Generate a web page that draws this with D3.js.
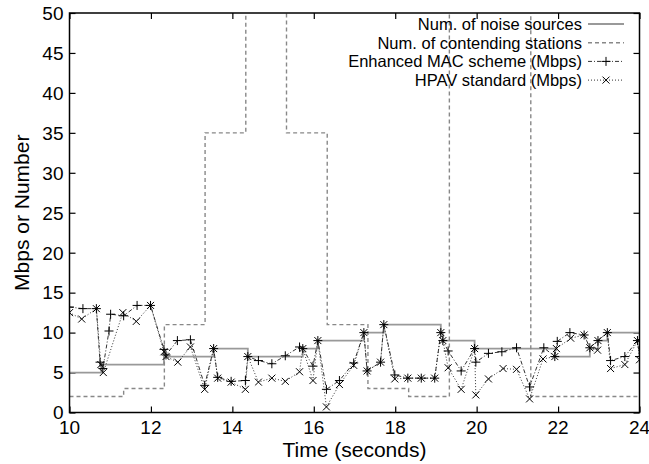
<!DOCTYPE html>
<html>
<head>
<meta charset="utf-8">
<script src="https://cdn.jsdelivr.net/npm/d3@7"></script>
<style>
  body { margin: 0; background: #fff; }
  text { font-family: "Liberation Sans", Arial, sans-serif; fill: #000; }
</style>
</head>
<body>
<div id="chart"></div>
<script>
// step series: value holds from its time until the next time
const noiseTimes = [10, 10.78, 12.32, 13.54, 14.38, 15.73, 16.10, 17.23, 17.72, 19.12, 19.17, 19.95, 21.92, 22.78, 22.98, 23.21, 24];
const noiseCount = [5, 6, 7, 8, 7, 8, 9, 10, 11, 10, 9, 8, 7, 8, 9, 10, 10];

const stationTimes = [10, 11.33, 12.33, 13.33, 14.33, 15.33, 16.33, 17.33, 18.33, 19.33, 21.33, 24];
const stationCount = [2, 3, 11, 35, 100, 35, 11, 3, 2, 100, 2, 2];

const enhancedTimes = [10.0, 10.33, 10.66, 10.75, 10.82, 10.97, 11.01, 11.33, 11.66, 11.99, 12.32, 12.37, 12.65, 12.97,
  13.32, 13.54, 13.64, 13.97, 14.32, 14.38, 14.64, 14.97, 15.30, 15.65, 15.73, 15.98, 16.10, 16.31, 16.63, 16.98,
  17.23, 17.31, 17.64, 17.72, 17.99, 18.31, 18.64, 18.97, 19.12, 19.17, 19.30, 19.62, 19.95, 19.98, 20.29, 20.62,
  20.98, 21.30, 21.65, 21.92, 21.98, 22.29, 22.64, 22.78, 22.98, 23.21, 23.29, 23.64, 23.95, 24.0];
const enhancedMbps = [13.2, 13.0, 13.0, 6.3, 5.5, 10.2, 12.3, 12.1, 13.4, 13.4, 7.9, 7.2, 9.0, 9.1,
  3.4, 8.0, 4.4, 3.9, 4.0, 7.0, 6.5, 6.1, 7.1, 8.2, 8.0, 5.8, 9.0, 2.9, 4.0, 6.2,
  10.0, 5.2, 6.3, 11.0, 4.7, 4.3, 4.3, 4.3, 10.0, 9.0, 7.7, 5.2, 8.0, 6.3, 7.4, 7.6,
  8.1, 3.2, 8.1, 7.0, 8.9, 10.0, 9.7, 8.1, 9.0, 10.0, 6.5, 7.0, 9.0, 7.0];

const hpavTimes = [10.0, 10.30, 10.66, 10.77, 10.83, 11.31, 11.64, 11.99, 12.32, 12.37, 12.66, 12.97,
  13.32, 13.54, 13.64, 13.97, 14.32, 14.38, 14.64, 14.97, 15.30, 15.65, 15.73, 15.98, 16.10, 16.31, 16.63, 16.98,
  17.23, 17.31, 17.64, 17.72, 17.99, 18.31, 18.64, 18.97, 19.12, 19.17, 19.30, 19.62, 19.95, 19.98, 20.29, 20.65,
  20.98, 21.30, 21.63, 21.92, 21.96, 22.31, 22.64, 22.78, 22.97, 22.98, 23.21, 23.29, 23.64, 23.95, 24.0];
const hpavMbps = [12.5, 11.7, 13.0, 6.0, 5.0, 12.5, 11.4, 13.4, 7.6, 7.0, 6.3, 8.2,
  2.9, 8.0, 4.3, 3.8, 2.9, 7.0, 3.8, 4.3, 3.9, 5.1, 8.0, 4.0, 9.0, 0.7, 3.5, 5.9,
  10.0, 5.2, 6.3, 11.0, 4.2, 4.3, 4.3, 4.3, 10.0, 9.0, 5.6, 2.9, 8.0, 2.2, 4.2, 5.5,
  5.4, 1.7, 6.7, 7.0, 8.0, 9.3, 9.7, 8.1, 7.8, 9.0, 10.0, 5.5, 6.0, 9.0, 6.6];

const xTicks = [10, 12, 14, 16, 18, 20, 22, 24];
const yTicks = [0, 5, 10, 15, 20, 25, 30, 35, 40, 45, 50];
const legendLabels = ["Num. of noise sources", "Num. of contending stations", "Enhanced MAC scheme (Mbps)", "HPAV standard (Mbps)"];

const width = 649, height = 464;
const margin = { top: 13, right: 9.5, bottom: 51.5, left: 69.5 };
const plotW = width - margin.left - margin.right;
const plotH = height - margin.top - margin.bottom;

const x = d3.scaleLinear().domain([10, 24]).range([0, plotW]);
const y = d3.scaleLinear().domain([0, 50]).range([plotH, 0]);

const svg = d3.select("#chart").append("svg")
  .attr("width", width)
  .attr("height", height);

svg.append("defs").append("clipPath").attr("id", "plotclip")
  .append("rect").attr("width", plotW).attr("height", plotH);

const g = svg.append("g").attr("transform", `translate(${margin.left},${margin.top})`);

// ticks inward on all four sides, gnuplot style
const tickLen = 6;
g.append("g").call(d3.axisBottom(x).tickValues(xTicks).tickSize(-tickLen).tickFormat(""))
  .attr("transform", `translate(0,${plotH})`);
g.append("g").call(d3.axisTop(x).tickValues(xTicks).tickSize(-tickLen).tickFormat(""));
g.append("g").call(d3.axisLeft(y).tickValues(yTicks).tickSize(-tickLen).tickFormat(""));
g.append("g").call(d3.axisRight(y).tickValues(yTicks).tickSize(-tickLen).tickFormat(""))
  .attr("transform", `translate(${plotW},0)`);
g.selectAll(".domain").remove();
g.selectAll(".tick line").attr("stroke", "#000").attr("stroke-width", 1.2);

// tick labels
g.selectAll(".xlab").data(xTicks).enter().append("text")
  .attr("class", "xlab")
  .attr("x", d => x(d)).attr("y", plotH + 21)
  .attr("text-anchor", "middle").style("font-size", "19px")
  .text(d => d);
g.selectAll(".ylab").data(yTicks).enter().append("text")
  .attr("class", "ylab")
  .attr("x", -6).attr("y", d => y(d)).attr("dy", "0.36em")
  .attr("text-anchor", "end").style("font-size", "19px")
  .text(d => d);

svg.append("text")
  .attr("x", margin.left + plotW / 2).attr("y", 457)
  .attr("text-anchor", "middle").style("font-size", "21px")
  .text("Time (seconds)");
svg.append("text")
  .attr("transform", `translate(29,${margin.top + plotH / 2}) rotate(-90)`)
  .attr("text-anchor", "middle").style("font-size", "21px")
  .text("Mbps or Number");

const plot = g.append("g").attr("clip-path", "url(#plotclip)");

const stepLine = d3.line().x(d => x(d[0])).y(d => y(d[1])).curve(d3.curveStepAfter);
const plainLine = d3.line().x(d => x(d[0])).y(d => y(d[1]));

const noise = d3.zip(noiseTimes, noiseCount);
const stations = d3.zip(stationTimes, stationCount);
const enhanced = d3.zip(enhancedTimes, enhancedMbps);
const hpav = d3.zip(hpavTimes, hpavMbps);

const styles = [
  { stroke: "#999", width: 1.8, dash: null },
  { stroke: "#888", width: 1.4, dash: "4,3" },
  { stroke: "#333", width: 1, dash: "4,2,1,2" },
  { stroke: "#333", width: 1, dash: "1,2" }
];

plot.append("path").datum(noise).attr("d", stepLine)
  .attr("fill", "none").attr("stroke", styles[0].stroke).attr("stroke-width", styles[0].width);
plot.append("path").datum(stations).attr("d", stepLine)
  .attr("fill", "none").attr("stroke", styles[1].stroke).attr("stroke-width", styles[1].width)
  .attr("stroke-dasharray", styles[1].dash);
plot.append("path").datum(enhanced).attr("d", plainLine)
  .attr("fill", "none").attr("stroke", styles[2].stroke).attr("stroke-width", styles[2].width)
  .attr("stroke-dasharray", styles[2].dash);
plot.append("path").datum(hpav).attr("d", plainLine)
  .attr("fill", "none").attr("stroke", styles[3].stroke).attr("stroke-width", styles[3].width)
  .attr("stroke-dasharray", styles[3].dash);

const plusPath = r => `M${-r},0H${r}M0,${-r}V${r}`;
const crossPath = r => `M${-r},${-r}L${r},${r}M${-r},${r}L${r},${-r}`;

plot.selectAll(".plus").data(enhanced).enter().append("path")
  .attr("class", "plus")
  .attr("transform", d => `translate(${x(d[0])},${y(d[1])})`)
  .attr("d", plusPath(4.5)).attr("stroke", "#000").attr("stroke-width", 1).attr("fill", "none");
plot.selectAll(".cross").data(hpav).enter().append("path")
  .attr("class", "cross")
  .attr("transform", d => `translate(${x(d[0])},${y(d[1])})`)
  .attr("d", crossPath(3.5)).attr("stroke", "#000").attr("stroke-width", 1).attr("fill", "none");

// legend
const legend = svg.append("g");
const legendRows = legend.selectAll("g").data(legendLabels).enter().append("g")
  .attr("transform", (d, i) => `translate(0,${24 + i * 18.7})`);
legendRows.append("text")
  .attr("x", 582).attr("dy", "0.36em")
  .attr("text-anchor", "end").style("font-size", "16.5px")
  .text(d => d);
legendRows.append("line")
  .attr("x1", 588).attr("x2", 624)
  .attr("stroke", (d, i) => styles[i].stroke)
  .attr("stroke-width", (d, i) => styles[i].width)
  .attr("stroke-dasharray", (d, i) => styles[i].dash);
legendRows.filter((d, i) => i === 2).append("path")
  .attr("transform", "translate(606,0)").attr("d", plusPath(4.5))
  .attr("stroke", "#000").attr("fill", "none");
legendRows.filter((d, i) => i === 3).append("path")
  .attr("transform", "translate(606,0)").attr("d", crossPath(3.5))
  .attr("stroke", "#000").attr("fill", "none");

// frame
g.append("rect").attr("width", plotW).attr("height", plotH)
  .attr("fill", "none").attr("stroke", "#000").attr("stroke-width", 1.5);
</script>
</body>
</html>
